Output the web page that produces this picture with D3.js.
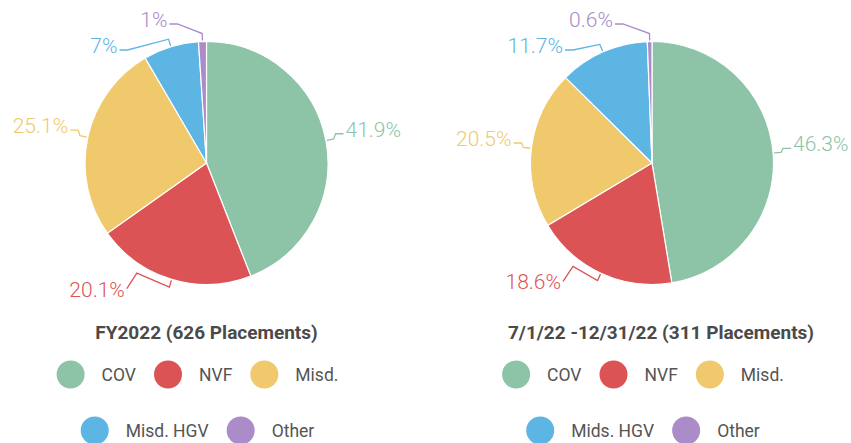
<!DOCTYPE html>
<html><head><meta charset="utf-8">
<script src="https://cdn.jsdelivr.net/npm/d3@7"></script>
<style>body{margin:0;background:#fff} svg{display:block;font-family:Roboto,"Noto Sans",sans-serif}</style>
</head><body>
<svg id="chart" width="851" height="443"></svg>
<script>
// ---- data ----
const categoriesFY2022 = ["COV", "NVF", "Misd.", "Misd. HGV", "Other"];
const categoriesH2 = ["COV", "NVF", "Misd.", "Mids. HGV", "Other"];
const valuesFY2022 = [41.9, 20.1, 25.1, 7, 1];
const valuesH2 = [46.3, 18.6, 20.5, 11.7, 0.6];
const titleFY2022 = "FY2022 (626 Placements)";
const titleH2 = "7/1/22 -12/31/22 (311 Placements)";
const sliceColors = ["#8dc3a7", "#dc5356", "#efc96b", "#5db5e4", "#a98cc8"];

// ---- layout ----
const svg = d3.select("#chart");
const cy = 163, r = 121.5, R = r + 20;
const charts = [
  {cx: 206.5, titleX: 206.5, cats: categoriesFY2022, values: valuesFY2022, title: titleFY2022},
  {cx: 652, titleX: 661, cats: categoriesH2, values: valuesH2, title: titleH2}
];
const color = d3.scaleOrdinal().domain(d3.range(5)).range(sliceColors);
const pie = d3.pie().sort(null).value(d => d).startAngle(0).endAngle(2 * Math.PI);
const arc = d3.arc().innerRadius(0).outerRadius(r);

charts.forEach(c => {
  const g = svg.append("g");
  const arcs = pie(c.values);
  g.append("g").attr("transform", `translate(${c.cx},${cy})`)
    .selectAll("path").data(arcs).join("path")
    .attr("d", arc).attr("fill", (d, i) => color(i))
    .attr("stroke", "#fff").attr("stroke-width", 1.2);

  // ---- data labels ----
  const labs = arcs.map((d, i) => {
    const a = (d.startAngle + d.endAngle) / 2;
    const sx = Math.sin(a), sy = -Math.cos(a);
    const side = sx >= 0 ? 1 : -1;
    const below = sy > 0;
    const cornerY = cy + sy * R;
    let b = below ? cornerY + 18 : cornerY;
    if (b + 4 > cy + r + 10) b -= 20;
    b = Math.max(b, 27);
    return {i, a, sx, sy, side, below, b, text: c.values[i] + "%"};
  });
  [1, -1].forEach(s => {
    const list = labs.filter(l => l.side === s).sort((p, q) => p.b - q.b);
    for (let k = 1; k < list.length; k++) {
      if (list[k].b < list[k - 1].b + 26) list[k].b = list[k - 1].b + 26;
    }
  });
  labs.forEach(l => {
    const cornerY = l.below ? l.b - 18 : l.b;
    const dy = cornerY - cy;
    const dx = Math.sqrt(Math.max(0, R * R - dy * dy));
    l.x = c.cx + l.side * dx;
    const end = [l.x - l.side * 2, l.below ? l.b - 8 : l.b - 3];
    const brk = [c.cx + l.sx * (r + 8), cy + l.sy * (r + 8)];
    const touch = [c.cx + l.sx * (r + 1), cy + l.sy * (r + 1)];
    const elbow = l.below ? [end[0] - l.side * 10, brk[1] - 14] : [end[0] - l.side * 8, end[1]];
    g.append("path")
      .attr("d", d3.line()([touch, brk, elbow, end]))
      .attr("fill", "none").attr("stroke", color(l.i)).attr("stroke-width", 1.3);
    g.append("text").attr("x", l.x).attr("y", l.b)
      .attr("text-anchor", l.side > 0 ? "start" : "end")
      .attr("font-size", 21).attr("font-weight", 300)
      .attr("fill", color(l.i)).text(l.text);
  });

  // ---- title ----
  g.append("text").attr("x", c.titleX).attr("y", 338.5)
    .attr("text-anchor", "middle").attr("font-size", 19).attr("font-weight", 700)
    .attr("fill", "#4a4a4a").text(c.title);

  // ---- legend ----
  const lg = g.append("g");
  const items = c.cats.map((name, i) => {
    const t = lg.append("text").attr("font-size", 17.5).attr("fill", "#555").text(name);
    const tw = t.node().getComputedTextLength();
    return {name, i, t, w: 28 + 17 + tw + 18};
  });
  const rows = [];
  let cur = [], curW = 0;
  items.forEach(it => {
    if (cur.length && curW + it.w > 320) { rows.push(cur); cur = []; curW = 0; }
    cur.push(it); curW += it.w;
  });
  if (cur.length) rows.push(cur);
  rows.forEach((row, ri) => {
    const total = d3.sum(row, d => d.w);
    let x = c.cx - total / 2;
    const y = 374.5 + ri * 56;
    row.forEach(it => {
      lg.append("circle").attr("cx", x + 14).attr("cy", y).attr("r", 14).attr("fill", color(it.i));
      it.t.attr("x", x + 45).attr("y", y).attr("dy", "0.35em");
      x += it.w;
    });
  });
});
</script>
</body></html>
